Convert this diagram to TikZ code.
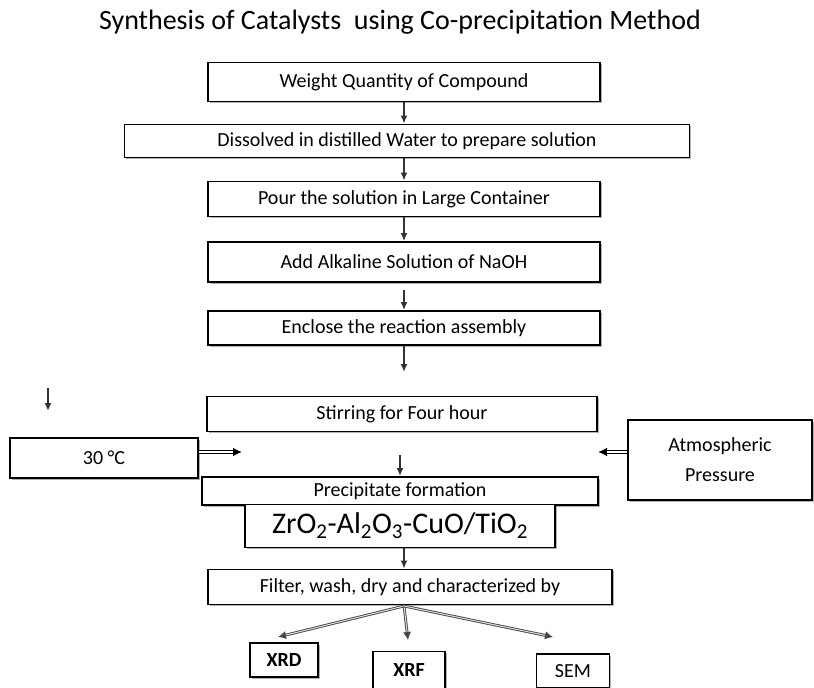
\documentclass[tikz,border=0pt]{standalone}
\usepackage{fontspec}
\setmainfont{Carlito}
\usepackage{tikz}
\usetikzlibrary{arrows.meta, positioning, shadows}

\begin{document}
\begin{tikzpicture}[x=1pt, y=-1pt, font=\fontsize{20}{22}\selectfont,
    stepbox/.style={draw, line width=1.8pt, fill=white,
        drop shadow={shadow xshift=1.8pt, shadow yshift=-1.8pt, fill=gray!60, opacity=1},
        inner sep=0pt, text centered},
    flow/.style={-{Latex[length=8pt,width=7pt]}, line width=1.8pt, draw=black!80},
    heat/.style={-{Latex[length=9pt,width=9pt]}, draw=black, line width=3.4pt},
    hollow/.style={draw=white, line width=1.2pt, shorten >=9pt},
    probe/.style={-{Latex[length=8pt,width=8pt]}, draw=gray!55!black, line width=0.9pt,
        double=gray!25, double distance=1pt}]

\useasboundingbox (0,0) rectangle (814,688);

% Title
\node (title) at (400,22) {\fontsize{28}{30}\selectfont Synthesis of Catalysts\ \ using Co-precipitation Method};

% Main steps
\node[stepbox, minimum width=392pt, minimum height=39pt] (weigh) at (404,82) {Weight Quantity\ of Compound};
\node[stepbox, minimum width=565pt, minimum height=33pt] (dissolve) at (407,141) {Dissolved in distilled\ Water to prepare solution};
\node[stepbox, minimum width=392pt, minimum height=35pt] (pour) at (404,199) {Pour the solution\ in Large Container};
\node[stepbox, minimum width=392pt, minimum height=40pt] (alkali) at (404,262) {Add Alkaline Solution of NaOH};
\node[stepbox, minimum width=392pt, minimum height=34pt] (enclose) at (404,328) {Enclose the reaction assembly};
\node[stepbox, minimum width=390pt, minimum height=35pt] (stir) at (402,414) {Stirring for Four hour};

% Conditions
\node[stepbox, minimum width=188pt, minimum height=40pt] (temp) at (104,458) {30 \textdegree C};
\node[stepbox, minimum width=184pt, minimum height=80pt, align=center] (atm) at (720,460) {Atmospheric\\[8pt]Pressure};

% Product
\node[stepbox, minimum width=396pt, minimum height=28pt] (precip) at (400,491) {Precipitate formation};
\node[stepbox, minimum width=310pt, minimum height=43pt] (cat) at (400,526)
    {\fontsize{30}{32}\selectfont ZrO\textsubscript{2}-Al\textsubscript{2}O\textsubscript{3}-CuO/TiO\textsubscript{2}};
\node[stepbox, minimum width=404pt, minimum height=35pt] (filter) at (410,587) {Filter, wash, dry and characterized by};

% Characterization
\node[stepbox, minimum width=68pt, minimum height=34pt] (xrd) at (284,660) {\textbf{XRD}};
\node[stepbox, minimum width=72pt, minimum height=37pt] (xrf) at (409,670) {\textbf{XRF}};
\node[stepbox, minimum width=73pt, minimum height=34pt] (sem) at (573,671) {SEM};

% Free arrow ends
\coordinate (encEnd) at (404,372);
\coordinate (tempTop) at (48,388);
\coordinate (tempEnd) at (48,411);
\coordinate (stirOut) at (400,455);
\coordinate (tempTip) at (242,452);
\coordinate (atmTip) at (598,452);
\coordinate (split) at (404,606);

% Arrows
\draw[flow] (weigh.south -| 404,0) -- (dissolve.north -| 404,0);
\draw[flow] (dissolve.south -| 404,0) -- (pour.north);
\draw[flow] (pour.south) -- (alkali.north);
\draw[flow] (alkali.south) ++(0,7) -- (enclose.north);
\draw[flow] (enclose.south) -- (encEnd);
\draw[flow] (tempTop) -- (tempEnd);
\draw[flow] (stirOut) -- (precip.north);
\draw[heat] (temp.east |- tempTip) -- (tempTip);
\draw[hollow] (temp.east |- tempTip) -- (tempTip);
\draw[heat] (atm.west |- atmTip) -- (atmTip);
\draw[hollow] (atm.west |- atmTip) -- (atmTip);
\draw[flow] (cat.south -| 404,0) -- (filter.north -| 404,0);
\draw[probe] (split) -- (278,637);
\draw[probe] (split) -- (408,640);
\draw[probe] (split) -- (553,637);

\end{tikzpicture}
\end{document}
